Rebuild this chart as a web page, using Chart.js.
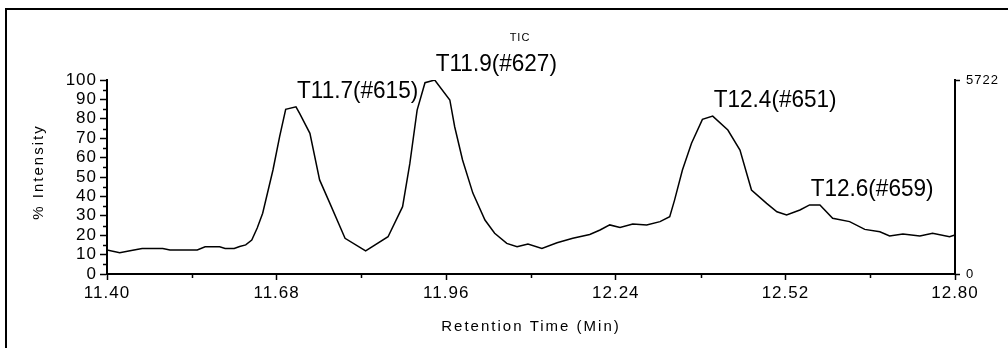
<!DOCTYPE html>
<html>
<head>
    <script src="https://cdn.jsdelivr.net/npm/chart.js"></script>
    <style>
        body { margin: 0; background: #fff; overflow: hidden; }
        #wrap { position: relative; width: 1008px; height: 348px; overflow: hidden; }
        #frame { position: absolute; left: 5px; top: 8px; width: 1100px; height: 400px;
                 border-left: 2px solid #000; border-top: 2px solid #000; pointer-events: none; }
    </style>
</head>
<body>
    <div id="wrap">
        <canvas id="tic" width="1008" height="348"></canvas>
        <div id="frame"></div>
    </div>

    <script>
        // retention time (min) and % intensity
        var times = [11.400, 11.421, 11.438, 11.458, 11.492, 11.504, 11.549, 11.562, 11.586, 11.595,
                     11.610, 11.619, 11.629, 11.639, 11.648, 11.657, 11.674, 11.685, 11.695, 11.712,
                     11.718, 11.735, 11.751, 11.768, 11.793, 11.827, 11.864, 11.888, 11.900, 11.912,
                     11.925, 11.941, 11.966, 11.974, 11.987, 12.004, 12.024, 12.040, 12.060, 12.077,
                     12.095, 12.118, 12.143, 12.169, 12.197, 12.214, 12.230, 12.247, 12.268, 12.291,
                     12.313, 12.329, 12.337, 12.350, 12.365, 12.383, 12.400, 12.425, 12.445, 12.456,
                     12.464, 12.489, 12.506, 12.522, 12.544, 12.560, 12.577, 12.598, 12.626, 12.651,
                     12.676, 12.692, 12.714, 12.742, 12.763, 12.791, 12.800];
        var intensity = [12.4, 11.0, 12.0, 13.2, 13.2, 12.4, 12.4, 14.0, 14.0, 13.2,
                         13.2, 14.2, 15.0, 17.5, 23.7, 31.3, 53.6, 70.8, 84.9, 86.2,
                         82.8, 72.5, 48.5, 36.4, 18.4, 11.9, 19.2, 34.7, 57.0, 84.5,
                         98.6, 100, 89.7, 75.9, 58.8, 41.7, 27.8, 21.0, 15.8, 14.1,
                         15.5, 13.2, 16.1, 18.4, 20.4, 22.7, 25.3, 24.0, 25.8, 25.3,
                         27.0, 29.5, 38.1, 53.6, 67.4, 79.7, 81.4, 74.2, 63.9, 51.9,
                         43.3, 36.4, 32.1, 30.4, 33.0, 35.6, 35.6, 28.7, 27.0, 23.0,
                         21.8, 19.6, 20.6, 19.6, 21.0, 19.2, 20.1];

        var xTickValues = [11.40, 11.68, 11.96, 12.24, 12.52, 12.80];
        var xMinorTicks = [11.54, 11.82, 12.10, 12.38, 12.66];
        var yMinorTicks = [5, 15, 25, 35, 45, 55, 65, 75, 85, 95];
        var rightTicks = [0, 5722];

        var peakTimes = [11.712, 11.941, 12.400, 12.560];
        var peakLabels = ['T11.7(#615)', 'T11.9(#627)', 'T12.4(#651)', 'T12.6(#659)'];

        var FONT = '"Liberation Sans", Arial, sans-serif';

        var points = times.map(function(t, i) { return { x: t, y: intensity[i] }; });

        // spaced-out tick text, plus minor ticks, axis titles, peak labels and the TIC caption
        var extras = {
            id: 'extras',
            beforeDraw: function(chart) {
                chart.ctx.letterSpacing = '1px';
            },
            afterDraw: function(chart) {
                var ctx = chart.ctx;
                var xs = chart.scales.x, ys = chart.scales.y;
                var area = chart.chartArea;
                ctx.save();
                ctx.strokeStyle = '#000';
                ctx.lineWidth = 1.5;
                ctx.beginPath();
                xMinorTicks.forEach(function(v) {
                    var px = Math.round(xs.getPixelForValue(v)) + 0.5;
                    ctx.moveTo(px, xs.top);
                    ctx.lineTo(px, xs.top + 4);
                });
                yMinorTicks.forEach(function(v) {
                    var py = Math.round(ys.getPixelForValue(v)) + 0.5;
                    ctx.moveTo(ys.right - 4, py);
                    ctx.lineTo(ys.right, py);
                });
                ctx.stroke();

                ctx.fillStyle = '#000';
                ctx.letterSpacing = '0px';
                ctx.textAlign = 'left';
                ctx.textBaseline = 'alphabetic';
                peakTimes.forEach(function(t, i) {
                    var idx = times.indexOf(t);
                    var px = xs.getPixelForValue(t);
                    var py = ys.getPixelForValue(intensity[idx]);
                    ctx.save();
                    ctx.translate(px + 1, py - 9);
                    ctx.scale(0.94, 1);
                    ctx.font = '24px ' + FONT;
                    ctx.fillText(peakLabels[i], 0, 0);
                    ctx.restore();
                });

                // axis titles
                ctx.letterSpacing = '2px';
                ctx.font = '15px ' + FONT;
                ctx.textAlign = 'center';
                ctx.textBaseline = 'middle';
                ctx.fillText('Retention Time (Min)', (area.left + area.right) / 2, 327);
                ctx.save();
                ctx.translate(39, 172);
                ctx.rotate(-Math.PI / 2);
                ctx.fillText('% Intensity', 0, 0);
                ctx.restore();

                ctx.font = '11px ' + FONT;
                ctx.letterSpacing = '1px';
                ctx.textBaseline = 'alphabetic';
                ctx.fillText('TIC', 520, 41);
                ctx.restore();
            }
        };

        var ctx = document.getElementById('tic').getContext('2d');
        var chart = new Chart(ctx, {
            type: 'line',
            data: {
                datasets: [{
                    label: 'TIC',
                    data: points,
                    borderColor: '#000',
                    borderWidth: 1.5,
                    pointRadius: 0,
                    tension: 0,
                    fill: false,
                    yAxisID: 'y'
                }]
            },
            options: {
                responsive: false,
                animation: false,
                layout: { padding: { top: 80, left: 0, right: 0, bottom: 0 } },
                plugins: { legend: { display: false }, tooltip: { enabled: false } },
                scales: {
                    x: {
                        type: 'linear',
                        min: 11.40,
                        max: 12.80,
                        afterBuildTicks: function(s) {
                            s.ticks = xTickValues.map(function(v) { return { value: v }; });
                        },
                        afterFit: function(s) { s.height = 74; },
                        ticks: {
                            callback: function(v) { return Number(v).toFixed(2); },
                            color: '#000',
                            font: { family: FONT, size: 17 },
                            padding: 3,
                            maxRotation: 0,
                            autoSkip: false
                        },
                        grid: { drawOnChartArea: false, tickLength: 6, tickColor: '#000', tickWidth: 1.5 },
                        border: { color: '#000', width: 2 }
                    },
                    y: {
                        position: 'left',
                        min: 0,
                        max: 100,
                        afterFit: function(s) { s.width = 107; },
                        ticks: {
                            stepSize: 10,
                            autoSkip: false,
                            color: '#000',
                            font: { family: FONT, size: 17 },
                            padding: 3
                        },
                        grid: { drawOnChartArea: false, tickLength: 7, tickColor: '#000', tickWidth: 1.5 },
                        border: { color: '#000', width: 2 }
                    },
                    y2: {
                        position: 'right',
                        min: 0,
                        max: 5722,
                        afterBuildTicks: function(s) {
                            s.ticks = rightTicks.map(function(v) { return { value: v }; });
                        },
                        afterFit: function(s) { s.width = 53; },
                        ticks: {
                            callback: function(v) { return String(v); },
                            color: '#000',
                            font: { family: FONT, size: 13 },
                            padding: 6
                        },
                        grid: { drawOnChartArea: false, tickLength: 5, tickColor: '#000', tickWidth: 1.5 },
                        border: { color: '#000', width: 2 }
                    }
                }
            },
            plugins: [extras]
        });
    </script>
</body>
</html>
